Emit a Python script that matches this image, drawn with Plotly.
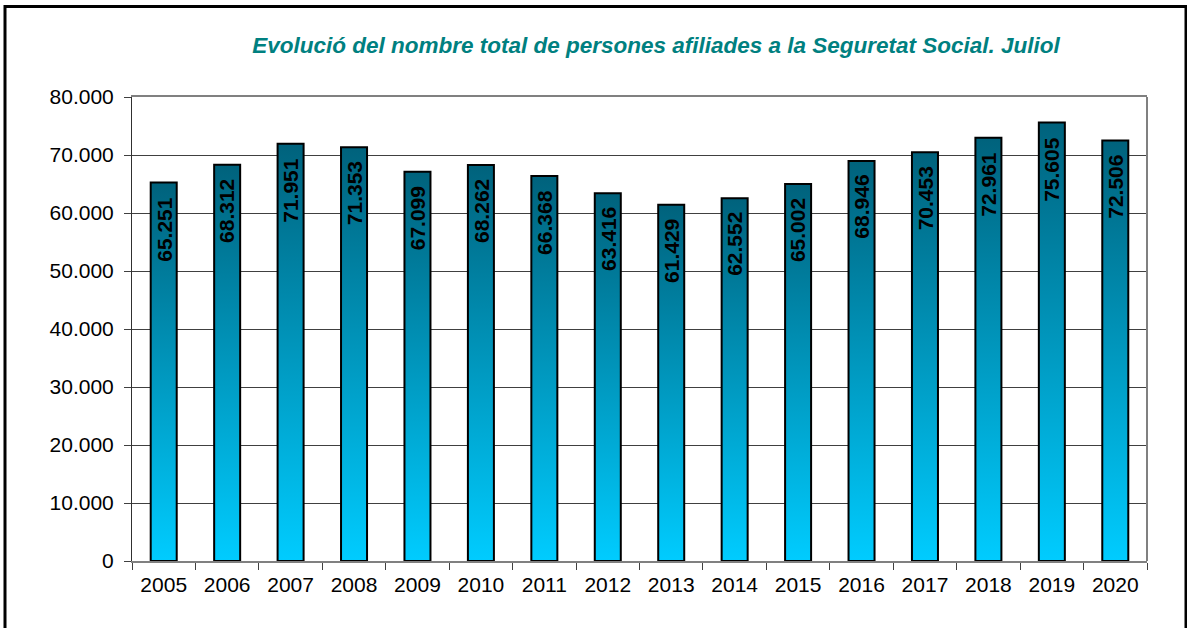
import plotly.graph_objects as go

years = ["2005", "2006", "2007", "2008", "2009", "2010", "2011", "2012",
         "2013", "2014", "2015", "2016", "2017", "2018", "2019", "2020"]
afiliats = [65251, 68312, 71951, 71353, 67099, 68262, 66368, 63416,
            61429, 62552, 65002, 68946, 70453, 72961, 75605, 72506]
y_ticks = [0, 10000, 20000, 30000, 40000, 50000, 60000, 70000, 80000]
title_text = "Evolució del nombre total de persones afiliades a la Seguretat Social. Juliol"

W, H = 1187, 628
L, R, T, B = 132, 40, 97, 67
bar_w = 0.41
FONT = "Liberation Sans, Arial, sans-serif"

fig = go.Figure()

for i, v in enumerate(afiliats):
    x0, x1 = i - bar_w / 2, i + bar_w / 2
    fig.add_trace(go.Scatter(
        x=[x0, x1, x1, x0, x0], y=[0, 0, v, v, 0],
        mode="lines", fill="toself",
        fillgradient=dict(type="vertical",
                          colorscale=[[0, "#00CCFF"], [1, "#00627C"]]),
        line=dict(color="black", width=2),
        hoverinfo="skip", showlegend=False,
    ))
    fig.add_annotation(
        x=i, y=v, xref="x", yref="y",
        text=f"{v:,}".replace(",", "."),
        textangle=-90, showarrow=False,
        xanchor="center", yanchor="top", yshift=-12,
        font=dict(family=FONT, size=21, color="black", weight="bold"),
    )

# plot-area right border (gray)
fig.add_shape(type="line", xref="paper", yref="paper", x0=1, x1=1, y0=0, y1=1,
              line=dict(color="#808080", width=2))
# outer chart frame
fx0 = (5 - L) / (W - L - R)
fx1 = (1186 - L) / (W - L - R)
fy1 = (H - B - 6.5) / (H - T - B)
fy0 = (H - B - 660) / (H - T - B)
fig.add_shape(type="rect", xref="paper", yref="paper",
              x0=fx0, x1=fx1, y0=fy0, y1=fy1,
              line=dict(color="black", width=3), fillcolor="rgba(0,0,0,0)")

fig.update_layout(
    width=W, height=H, autosize=False,
    margin=dict(l=L, r=R, t=T, b=B, pad=0),
    paper_bgcolor="white", plot_bgcolor="white",
    separators=",.",
    font=dict(family=FONT, size=21, color="black"),
    title=dict(text=f"<b><i>{title_text}</i></b>", x=656 / W, xanchor="center",
               y=1 - 45 / H, yanchor="middle", xref="container", yref="container",
               font=dict(family=FONT, size=22.5, color="#008080")),
    showlegend=False,
)
fig.update_xaxes(
    range=[-0.5, len(years) - 0.5],
    tickmode="array", tickvals=list(range(len(years))), ticktext=years,
    ticks="", showgrid=False, zeroline=False, ticklabelstandoff=4,
    showline=True, linecolor="#808080", linewidth=2, mirror=True,
    minor=dict(ticks="outside", tick0=-0.5, dtick=1, ticklen=7,
               tickcolor="#404040", tickwidth=1, showgrid=False),
    tickfont=dict(family=FONT, size=21, color="black"),
)
fig.update_yaxes(
    range=[0, 80000], tickmode="array", tickvals=y_ticks,
    tickformat=",d", ticks="outside", ticklen=7, tickcolor="#404040",
    ticklabelstandoff=6,
    showgrid=True, gridcolor="#404040", gridwidth=1, zeroline=False,
    showline=True, linecolor="#303030", linewidth=1,
    tickfont=dict(family=FONT, size=21, color="black"),
)

fig.write_html("out.html", config={"displayModeBar": False},
               post_script="document.body.style.margin='0';document.body.style.overflow='hidden';")
